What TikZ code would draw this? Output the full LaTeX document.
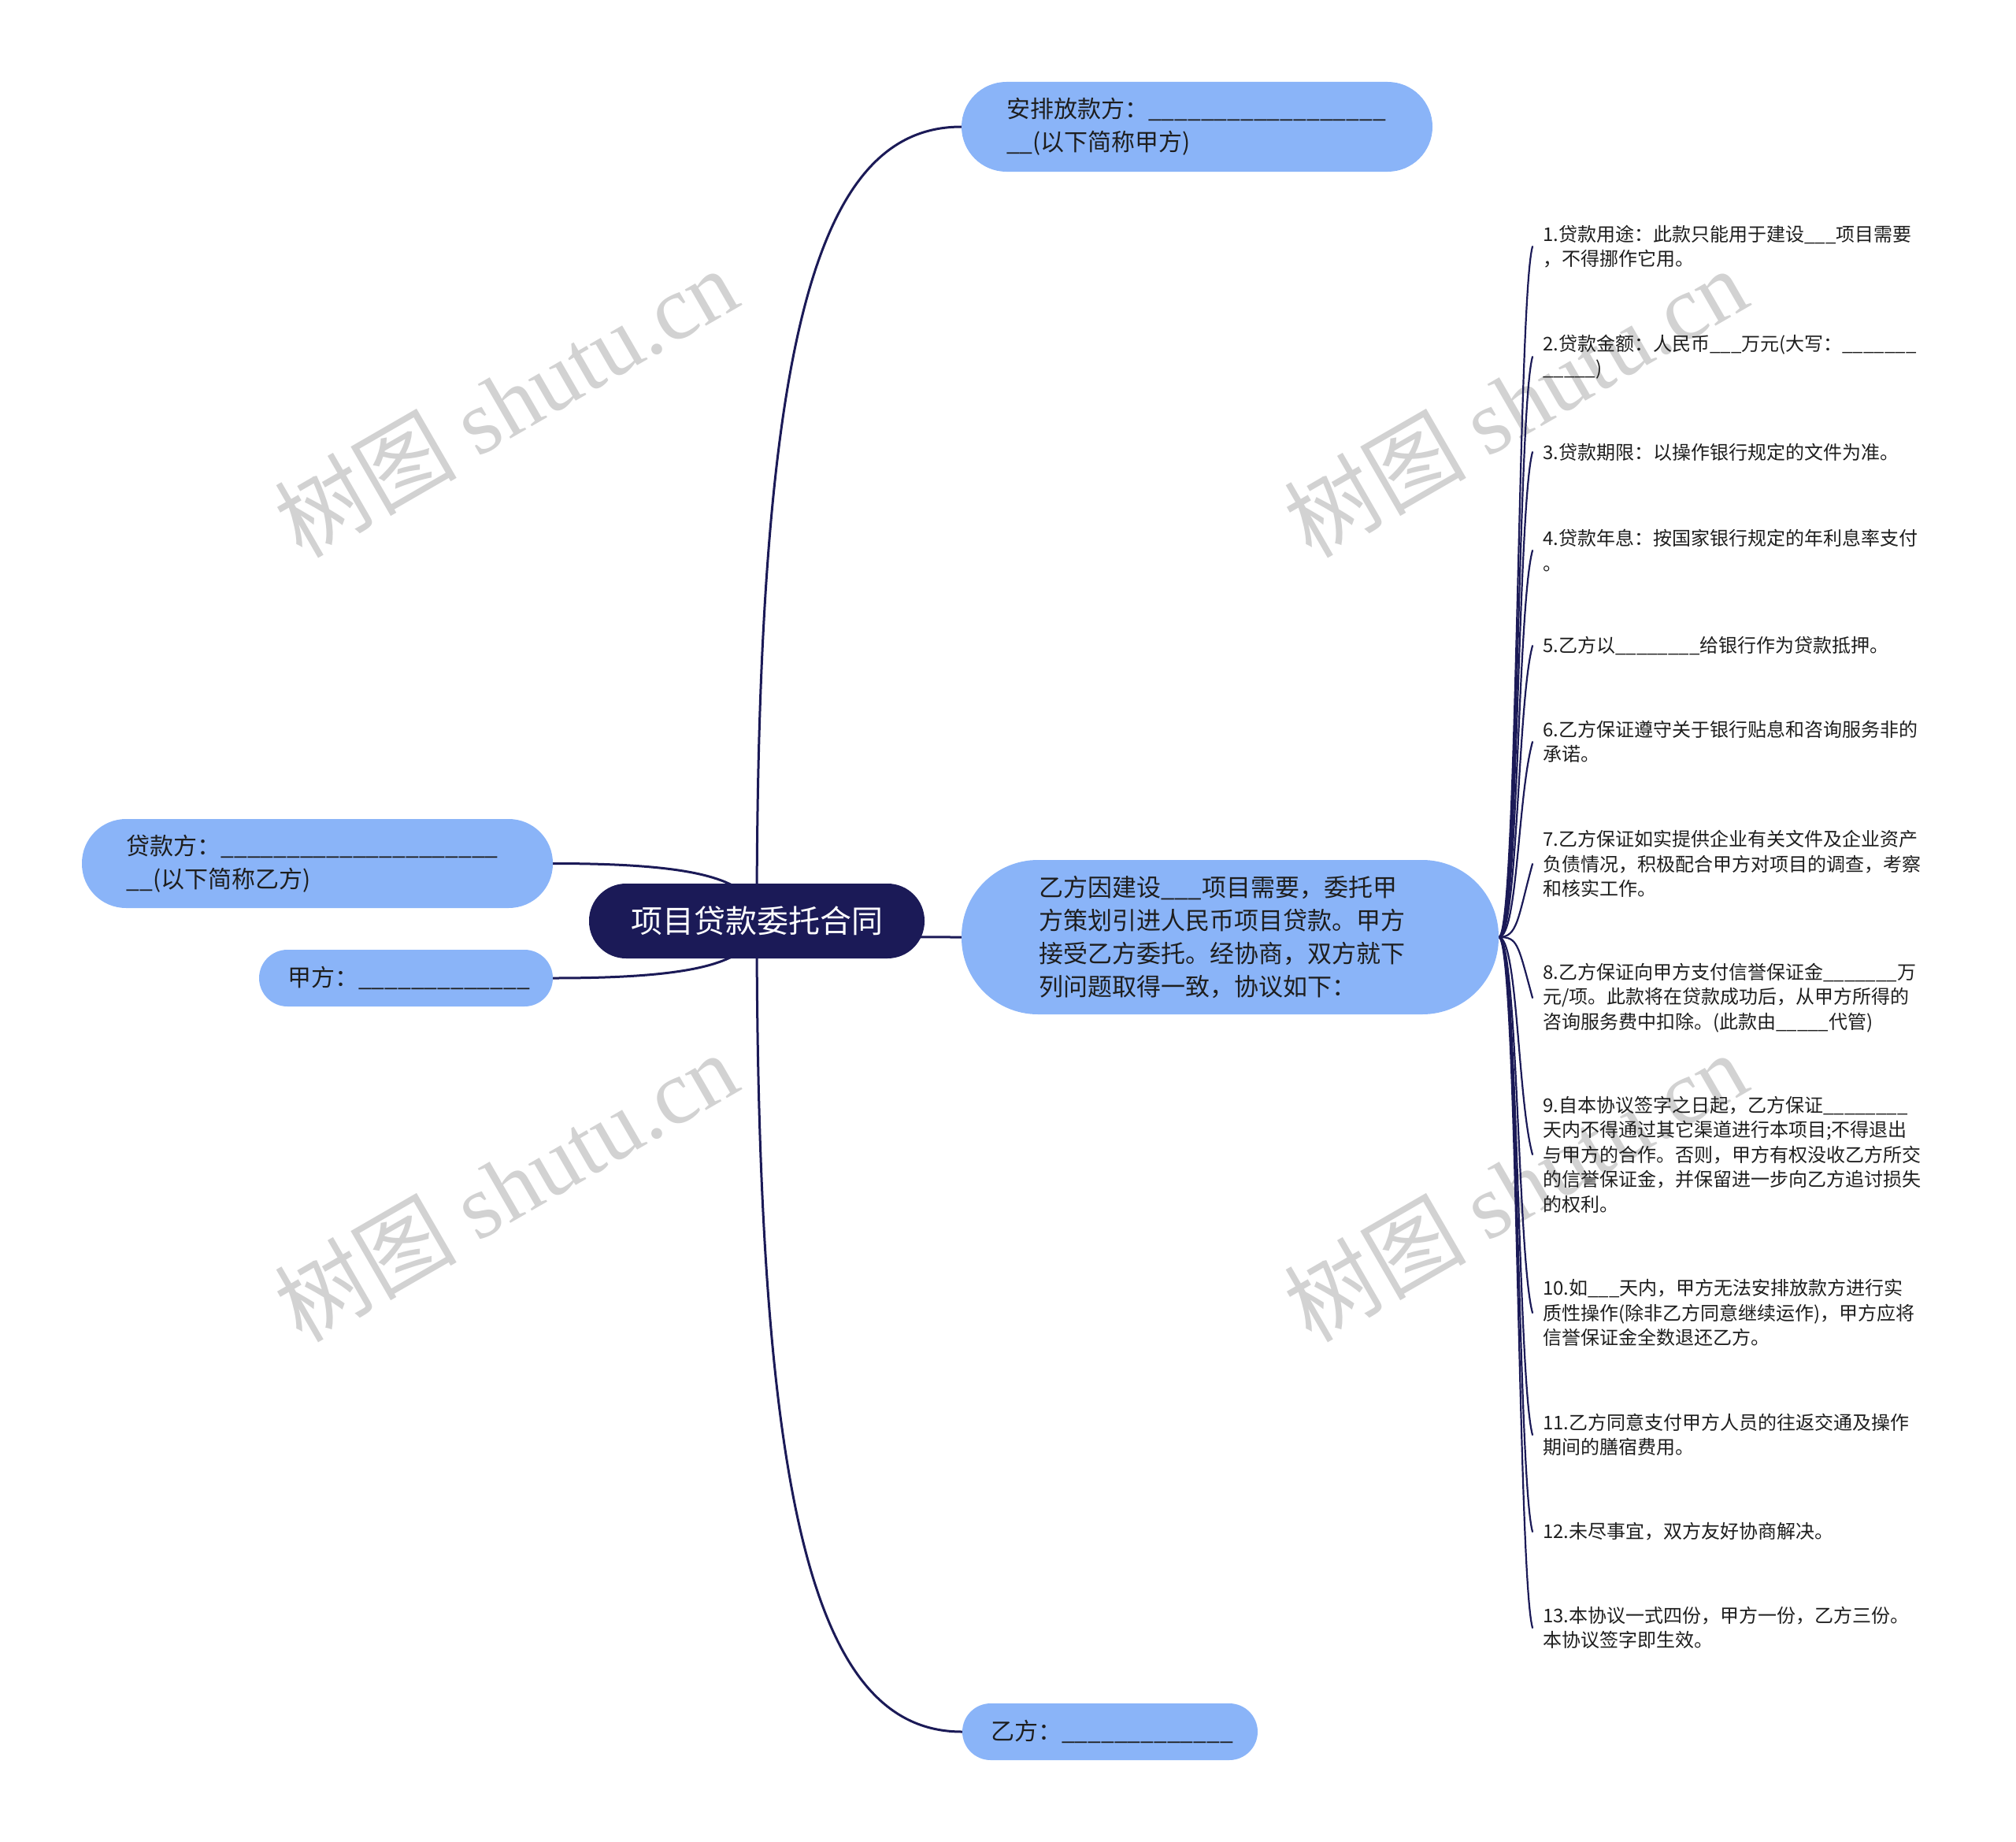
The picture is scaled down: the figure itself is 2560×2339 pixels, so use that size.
\documentclass[tikz,border=0pt]{standalone}
\usepackage{fontspec}
\setmainfont{Noto Sans CJK SC}
\newfontfamily\wmlatin{Liberation Serif}
\newfontfamily\wmcjk{Noto Sans CJK SC}
\usetikzlibrary{calc}
\definecolor{nodeblue}{RGB}{138,180,248}
\definecolor{navy}{RGB}{27,26,87}
\definecolor{txtc}{RGB}{30,30,30}
\definecolor{wmgray}{RGB}{210,210,210}
\pgfdeclarelayer{wm}
\pgfdeclarelayer{bg}
\pgfsetlayers{wm,bg,main}
\ExplSyntaxOn
\cs_new:Npn \uscore #1 { \prg_replicate:nn {#1} { \textunderscore } }
\ExplSyntaxOff
\begin{document}
\begin{tikzpicture}[x=1pt,y=-1pt,
  topic/.style={fill=nodeblue, align=left, text=txtc, font=\fontsize{30}{42}\selectfont, inner ysep=0pt, anchor=center},
  rootnode/.style={fill=navy, text=white, font=\fontsize{40}{48}\selectfont, minimum width=426pt, minimum height=95pt, rounded corners=47pt, inner sep=0pt},
  leaf/.style={anchor=west, align=left, text=txtc, font=\fontsize{24}{31.5}\selectfont, text width=600pt, inner xsep=13pt, inner ysep=0pt},
  conn/.style={draw=navy, line width=3pt, line cap=round},
  leafconn/.style={draw=navy, line width=2.2pt, line cap=round},
  wmark/.style={text=wmgray, rotate=30, inner sep=0pt, font=\fontsize{116}{120}\selectfont}
]
\useasboundingbox (0,0) rectangle (2560,2339);

% nodes
\node[rootnode] (root) at (961,1169.5) {项目贷款委托合同};
\node[topic, minimum height=114pt, text width=484pt, inner xsep=57pt, rounded corners=57pt] (n1) at (1520,161) {安排放款方：\uscore{18}\\\uscore{2}(以下简称甲方)};
\node[topic, minimum height=113pt, text width=485pt, inner xsep=56.5pt, rounded corners=56pt] (dk) at (403,1096.5) {贷款方：\uscore{21}\\\uscore{2}(以下简称乙方)};
\node[topic, minimum height=72pt, text width=301pt, inner xsep=36pt, rounded corners=36pt] (jf) at (515.5,1242) {甲方：\uscore{13}};
\node[topic, minimum height=72pt, text width=303pt, inner xsep=36pt, rounded corners=36pt] (yf) at (1409.5,2199) {乙方：\uscore{13}};
\node[topic, font=\fontsize{31}{42}\selectfont, minimum height=196pt, text width=486pt, inner xsep=98pt, rounded corners=97pt] (mid) at (1562,1190) {乙方因建设\uscore{3}项目需要，委托甲\\方策划引进人民币项目贷款。甲方\\接受乙方委托。经协商，双方就下\\列问题取得一致，协议如下：};

\node[leaf] (l1) at (1946,313) {1.贷款用途：此款只能用于建设\uscore{3}项目需要\\，不得挪作它用。};
\node[leaf] (l2) at (1946,453) {2.贷款金额：人民币\uscore{3}万元(大写：\uscore{7}\\\uscore{5})};
\node[leaf] (l3) at (1946,574) {3.贷款期限：以操作银行规定的文件为准。};
\node[leaf] (l4) at (1946,699) {4.贷款年息：按国家银行规定的年利息率支付\\。};
\node[leaf] (l5) at (1946,820) {5.乙方以\uscore{8}给银行作为贷款抵押。};
\node[leaf] (l6) at (1946,942) {6.乙方保证遵守关于银行贴息和咨询服务非的\\承诺。};
\node[leaf] (l7) at (1946,1097) {7.乙方保证如实提供企业有关文件及企业资产\\负债情况，积极配合甲方对项目的调查，考察\\和核实工作。};
\node[leaf] (l8) at (1946,1267) {8.乙方保证向甲方支付信誉保证金\uscore{7}万\\元/项。此款将在贷款成功后，从甲方所得的\\咨询服务费中扣除。(此款由\uscore{5}代管)};
\node[leaf] (l9) at (1946,1466) {9.自本协议签字之日起，乙方保证\uscore{8}\\天内不得通过其它渠道进行本项目;不得退出\\与甲方的合作。否则，甲方有权没收乙方所交\\的信誉保证金，并保留进一步向乙方追讨损失\\的权利。};
\node[leaf] (l10) at (1946,1667) {10.如\uscore{3}天内，甲方无法安排放款方进行实\\质性操作(除非乙方同意继续运作)，甲方应将\\信誉保证金全数退还乙方。};
\node[leaf] (l11) at (1946,1822) {11.乙方同意支付甲方人员的往返交通及操作\\期间的膳宿费用。};
\node[leaf] (l12) at (1946,1945) {12.未尽事宜，双方友好协商解决。};
\node[leaf] (l13) at (1946,2067) {13.本协议一式四份，甲方一份，乙方三份。\\本协议签字即生效。};

% connectors
\begin{pgfonlayer}{bg}
\foreach \t/\a in {n1/west, yf/west, mid/west, dk/east, jf/east}{
  \draw[conn] (root.center) .. controls ($(root.center)!0.74!(root.center |- \t.\a)$) and ($(\t.\a)!0.7!(root.center |- \t.\a)$) .. (\t.\a);
}
\foreach \l/\s in {l1/1,l2/1,l3/1,l4/1,l5/1,l6/1,l7/1,l8/-1,l9/-1,l10/-1,l11/-1,l12/-1,l13/-1}{
  \draw[leafconn] (mid.east) .. controls +(24,0) and +(-19,{70*\s}) .. (\l.west);
}
\end{pgfonlayer}

% watermarks
\begin{pgfonlayer}{wm}
\begin{scope}
\clip (0,0) rectangle (2560,2339);
\foreach \wx/\wy/\wn in {642/510/a, 1924/510/b, 642/1506/c, 1924/1506/d, 642/2502/e, 1924/2502/f}{
  \node[wmark] (wm\wn) at (\wx,\wy) {{\wmcjk 树图} {\wmlatin shutu.cn}};
}
\end{scope}
\end{pgfonlayer}
\end{tikzpicture}
\end{document}
